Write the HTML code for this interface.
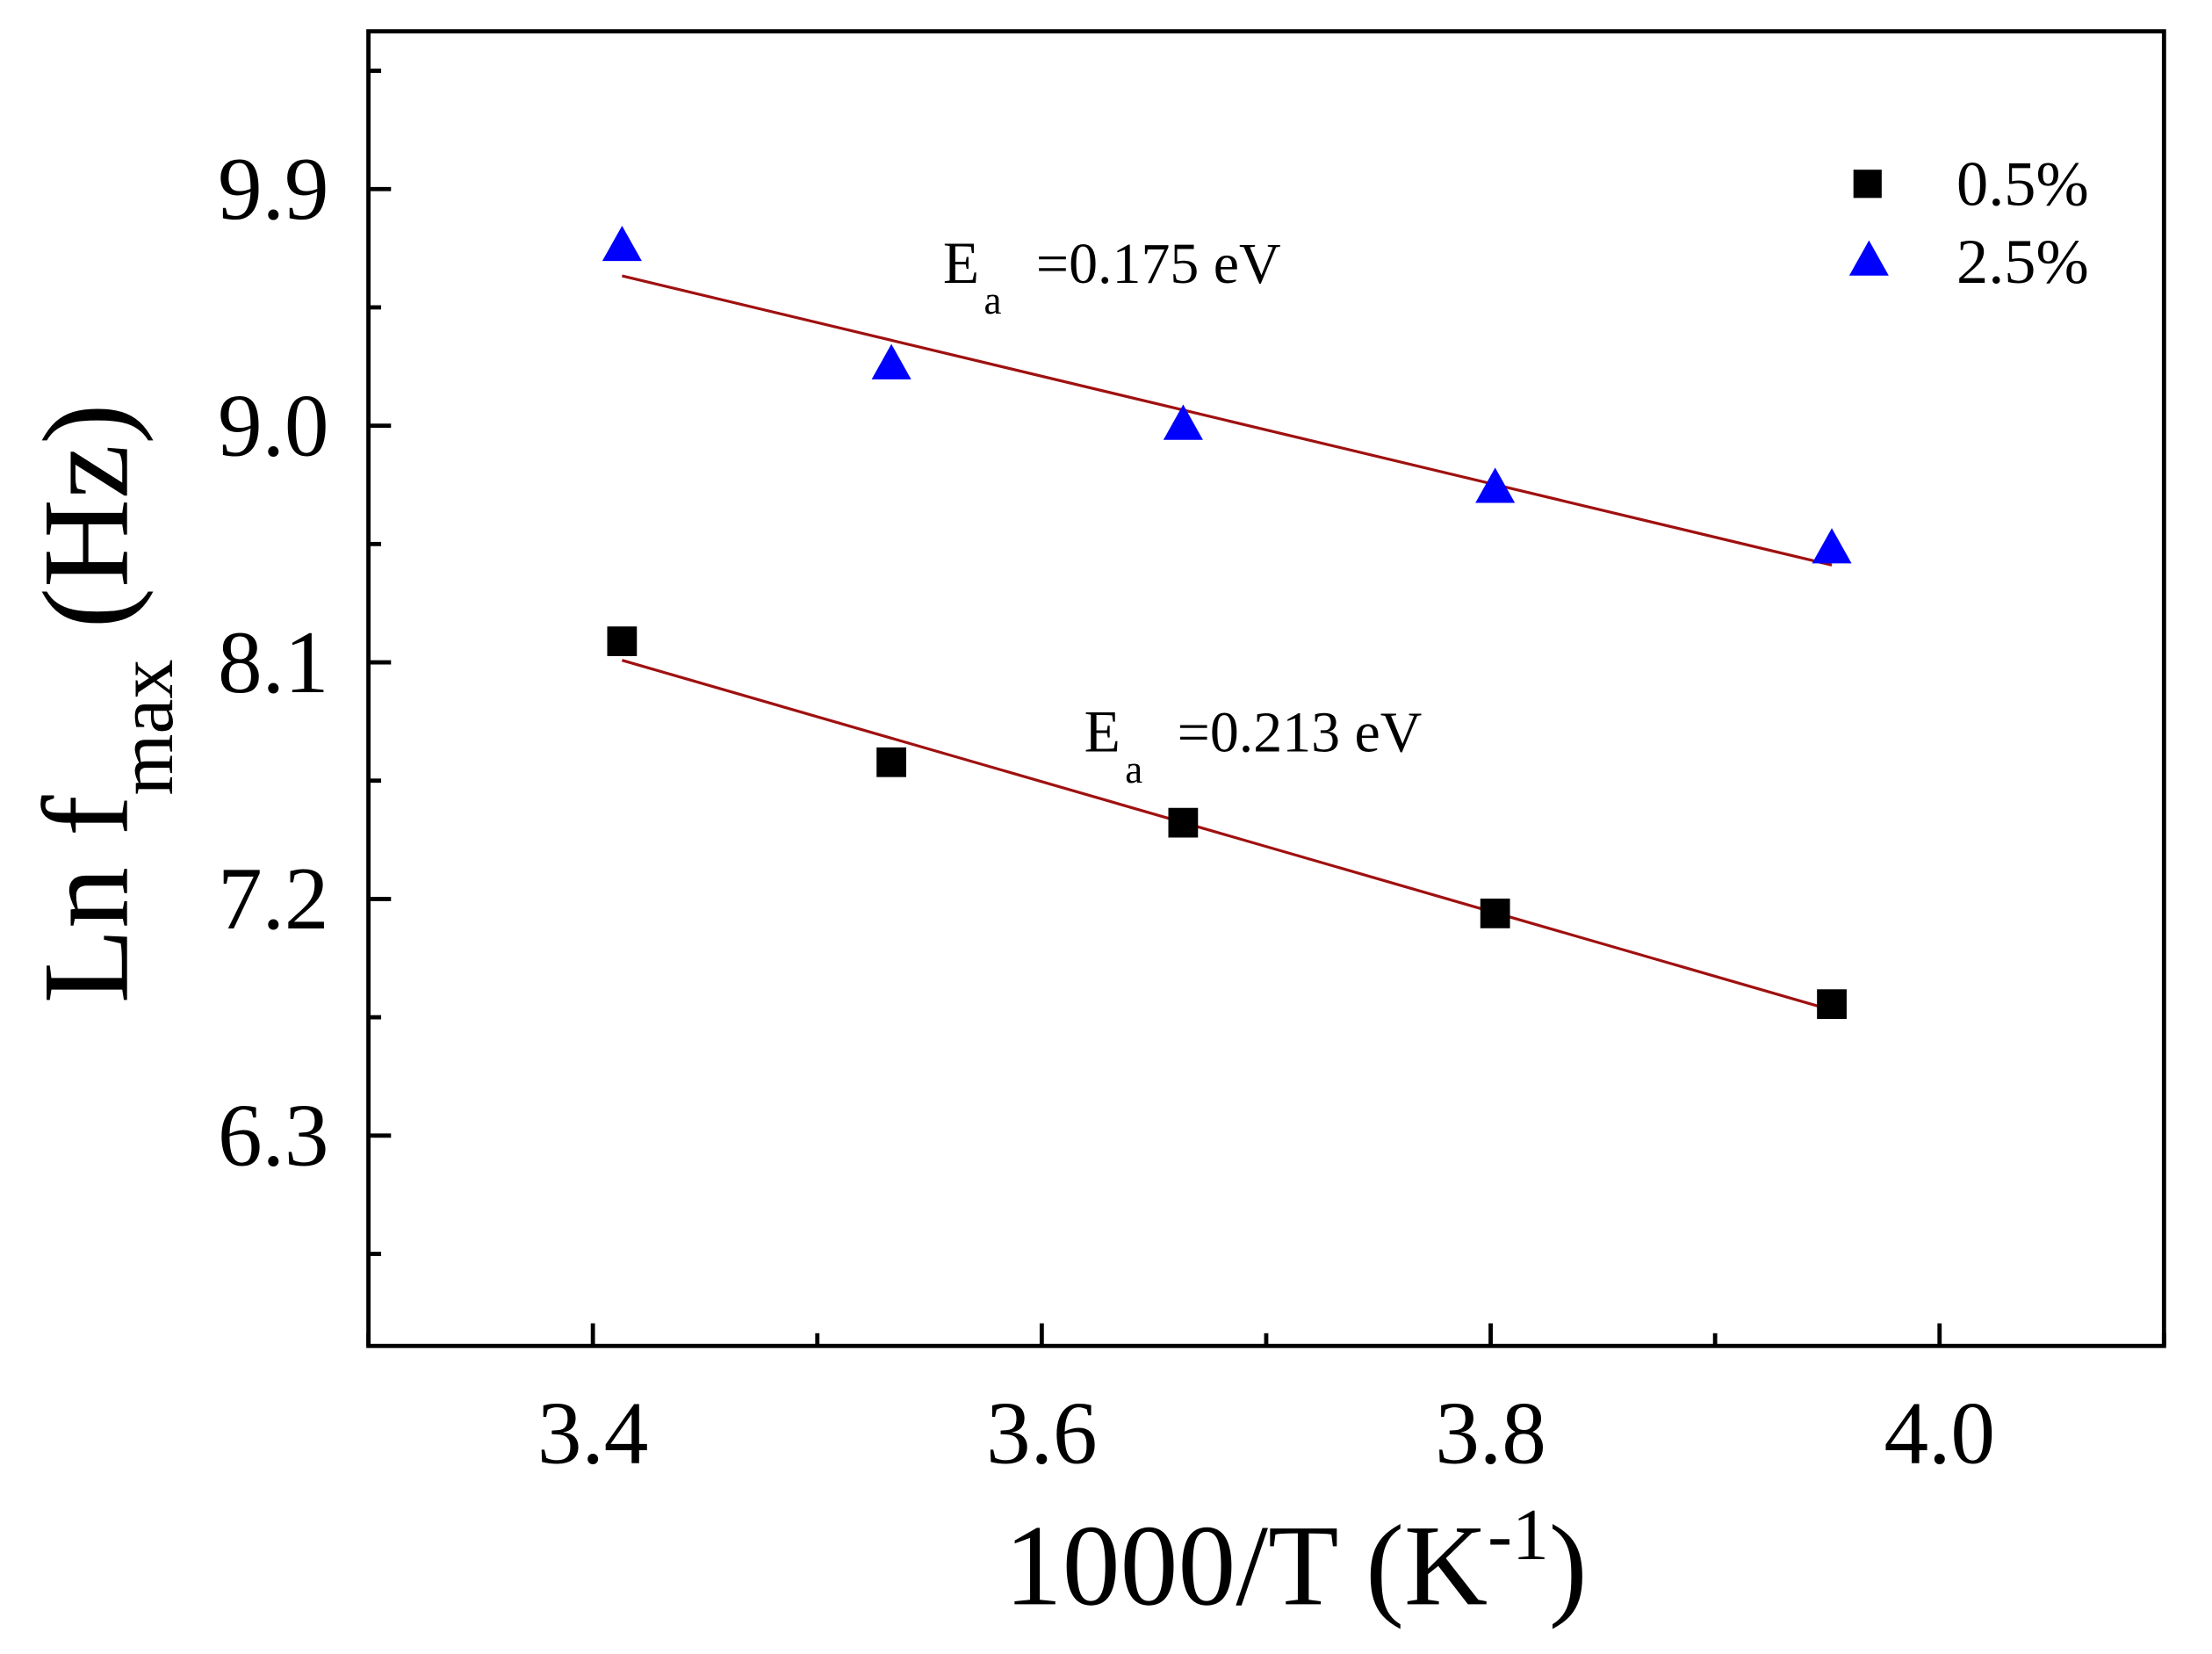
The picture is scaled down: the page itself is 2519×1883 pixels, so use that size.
<!DOCTYPE html>
<html><head><meta charset="utf-8"><style>html,body{margin:0;padding:0;background:#fff}svg{display:block}</style></head>
<body>
<svg width="2519" height="1883" viewBox="0 0 1567 1171" xmlns="http://www.w3.org/2000/svg" font-family="'Liberation Serif', serif">
<g id="axes"></g>
<g id="marks"></g>
<g id="labels"></g>
</svg>
<script>
const xTicks = [3.4, 3.6, 3.8, 4.0];
const xTickLabels = ["3.4", "3.6", "3.8", "4.0"];
const yTicks = [6.3, 7.2, 8.1, 9.0, 9.9];
const yTickLabels = ["6.3", "7.2", "8.1", "9.0", "9.9"];
const xValues = [3.413, 3.533, 3.663, 3.802, 3.952];
const series05 = [8.18, 7.72, 7.49, 7.145, 6.80];
const series25 = [9.68, 9.23, 9.0, 8.76, 8.53];
const fitLabels = ["=0.175 eV", "=0.213 eV"];

const L=261, R=1533, T=22, B=953, xMin=3.3, xMax=4.1, yMin=5.5, yMax=10.5;
const sx=v=>L+(v-xMin)/(xMax-xMin)*(R-L);
const sy=v=>B-(v-yMin)/(yMax-yMin)*(B-T);
const NS="http://www.w3.org/2000/svg";
function mk(parent,tag,attrs,text){const e=document.createElementNS(NS,tag);for(const k in attrs)e.setAttribute(k,attrs[k]);if(text!==undefined)e.textContent=text;document.getElementById(parent).appendChild(e);return e;}

let e=mk('axes','rect',{x:L,y:T,width:R-L,height:B-T,fill:'none',stroke:'#000','stroke-width':3});


for(let v=3.3;v<=4.1001;v+=0.1){const major=xTicks.some(t=>Math.abs(t-v)<1e-6);
 e=mk('axes','line',{x1:sx(v),x2:sx(v),y1:B,y2:B-(major?16:9),stroke:'#000','stroke-width':3});
 
 }
for(let v=5.85;v<=10.5;v+=0.45){const major=yTicks.some(t=>Math.abs(t-v)<1e-6);
 e=mk('axes','line',{x1:L,x2:L+(major?16:9),y1:sy(v),y2:sy(v),stroke:'#000','stroke-width':3});
 
 }
xTicks.forEach((t,i)=>{e=mk('labels','text',{x:sx(t),y:1036,'font-size':63,'text-anchor':'middle'},xTickLabels[i]);
 
 });
yTicks.forEach((t,i)=>{e=mk('labels','text',{x:233,y:sy(t)+21,'font-size':63,'text-anchor':'end'},yTickLabels[i]);
 
 });

function fit(xs,ys){const n=xs.length,mx=xs.reduce((a,b)=>a+b)/n,my=ys.reduce((a,b)=>a+b)/n;let num=0,den=0;xs.forEach((x,i)=>{num+=(x-mx)*(ys[i]-my);den+=(x-mx)**2});const m=num/den;return [m,my-m*mx];}
[[series25,'fit-line-2.5'],[series05,'fit-line-0.5']].forEach(([ys,name])=>{const [m,b]=fit(xValues,ys);const x0=xValues[0],x1=xValues[xValues.length-1];
 e=mk('marks','line',{x1:sx(x0),y1:sy(m*x0+b),x2:sx(x1),y2:sy(m*x1+b),stroke:'#a01010','stroke-width':2});
 
 });
xValues.forEach((x,i)=>{e=mk('marks','rect',{x:sx(x)-10.5,y:sy(series05[i])-10.5,width:21,height:21,fill:'#000'});
 
 
 const cx=sx(x),cy=sy(series25[i]);
 e=mk('marks','polygon',{points:`${cx},${cy-15} ${cx-14},${cy+10} ${cx+14},${cy+10}`,fill:'#0000ff'});
 
 });

e=mk('labels','rect',{x:1313,y:120,width:20,height:20,fill:'#000'});


e=mk('labels','text',{x:1386,y:145,'font-size':45},'0.5%');


e=mk('labels','polygon',{points:'1324,170 1310,195 1338,195',fill:'#0000ff'});


e=mk('labels','text',{x:1386,y:200,'font-size':45},'2.5%');



[[668,200,fitLabels[0],'activation-energy-2.5'],[768,532,fitLabels[1],'activation-energy-0.5']].forEach(([x,y,t,n])=>{
 e=mk('labels','text',{x:x,y:y,'font-size':42},'E');
 
 
 e=mk('labels','text',{x:x+29,y:y+22,'font-size':28},'a');
 
 
 e=mk('labels','text',{x:x+66,y:y,'font-size':41},t);
 
 });

e=mk('labels','text',{x:918,y:1136,'font-size':82,'text-anchor':'middle'},'');


e.innerHTML='1000/T (K<tspan dy="-32" font-size="52">-1</tspan><tspan dy="32">)</tspan>';
e=mk('labels','text',{x:0,y:0,'font-size':87,'text-anchor':'middle',transform:'translate(90,498) rotate(-90)'},'');


e.innerHTML='Ln f<tspan dy="32" font-size="56">max</tspan><tspan dy="-32"> (Hz)</tspan>';
</script>
</body></html>
